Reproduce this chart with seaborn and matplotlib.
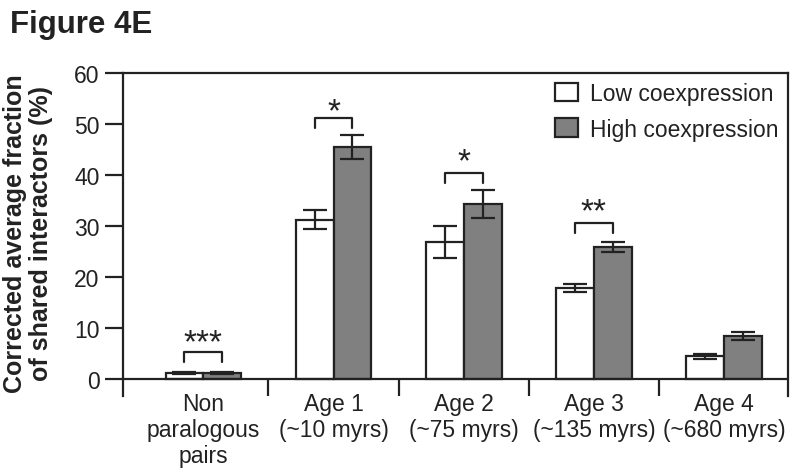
import pandas as pd
import matplotlib
matplotlib.use('Agg')
import matplotlib.pyplot as plt
import seaborn as sns
from matplotlib.patches import Patch

categories = ['Non\nparalogous\npairs', 'Age 1\n(~10 myrs)', 'Age 2\n(~75 myrs)',
              'Age 3\n(~135 myrs)', 'Age 4\n(~680 myrs)']
groups = ['Low coexpression', 'High coexpression']
low_vals = [1.2, 31.2, 26.9, 17.8, 4.45]
high_vals = [1.2, 45.5, 34.3, 25.9, 8.4]
low_err = [0.15, 1.9, 3.1, 0.8, 0.5]
high_err = [0.15, 2.3, 2.7, 1.0, 0.8]
stars = ['***', '*', '*', '**', '']
bracket_top = [5.3, 51.1, 40.4, 30.6, None]
star_y = [8.4, 53.7, 44.0, 34.2, None]

sns.set_style('white')
plt.rcParams['font.family'] = ['Liberation Sans', 'DejaVu Sans']

df = pd.DataFrame({
    'cat': categories * 2,
    'group': [groups[0]] * 5 + [groups[1]] * 5,
    'val': low_vals + high_vals,
})

fig = plt.figure(figsize=(8, 4.77), dpi=100)
ax = fig.add_axes([0.154, 0.168, 0.831, 0.677])

ink = '#222222'
sns.barplot(data=df, x='cat', y='val', hue='group', order=categories, hue_order=groups,
            palette=['white', '#808080'], width=0.58, errorbar=None,
            edgecolor=ink, linewidth=1.6, ax=ax, legend=False)

# error bars at the bar centres
bw = 0.29
for i in range(len(categories)):
    for off, v, e in [(-bw / 2, low_vals[i], low_err[i]), (bw / 2, high_vals[i], high_err[i])]:
        ax.errorbar(i + off, v, yerr=e, fmt='none', ecolor=ink, elinewidth=1.6,
                    capsize=8.3, capthick=1.6)

# significance brackets
for i, s in enumerate(stars):
    if not s:
        continue
    t = bracket_top[i]
    ax.plot([i - bw / 2, i - bw / 2, i + bw / 2, i + bw / 2], [t - 1.9, t, t, t - 1.9],
            color=ink, lw=1.6)
    ax.text(i, star_y[i] - 3.0, s, ha='center', va='baseline', fontsize=24,
            color=ink)

ymin = -3.33
ax.set_ylim(ymin, 60)
ax.set_xlim(-0.615, 4.49)
ax.axhline(0, color=ink, lw=1.6)
ax.vlines([0.5, 1.5, 2.5, 3.5], ymin, 0, color=ink, lw=1.6)

for side in ['left', 'right', 'top']:
    ax.spines[side].set_color(ink)
    ax.spines[side].set_linewidth(1.6)
ax.spines['bottom'].set_visible(False)

ax.set_yticks(range(0, 61, 10))
ax.tick_params(axis='y', direction='out', length=13, width=1.6, color=ink,
               labelsize=16.5, pad=4, left=True, labelcolor=ink)
ax.tick_params(axis='x', length=0, labelsize=16.5, pad=-3, labelcolor=ink)
for lab in ax.get_xticklabels():
    lab.set_linespacing(1.17)
ax.set_xlabel('')
ax.set_ylabel('Corrected average fraction\nof shared interactors (%)',
              fontsize=18, fontweight='bold', linespacing=1.12, color=ink, va='center')
ax.yaxis.set_label_coords(-0.143, 0.505)

handles = [Patch(facecolor='white', edgecolor=ink, linewidth=1.6),
           Patch(facecolor='#808080', edgecolor=ink, linewidth=1.6)]
ax.legend(handles, groups, loc='upper right', frameon=False, fontsize=16.5,
          handlelength=1.0, handleheight=0.87, handletextpad=0.52, labelspacing=0.55,
          borderaxespad=0.0, borderpad=0.4, labelcolor=ink)

fig.text(0.012, 0.948, 'Figure 4E', fontsize=22.5, fontweight='bold', va='center', color=ink)

fig.savefig('out.png', dpi=100)
